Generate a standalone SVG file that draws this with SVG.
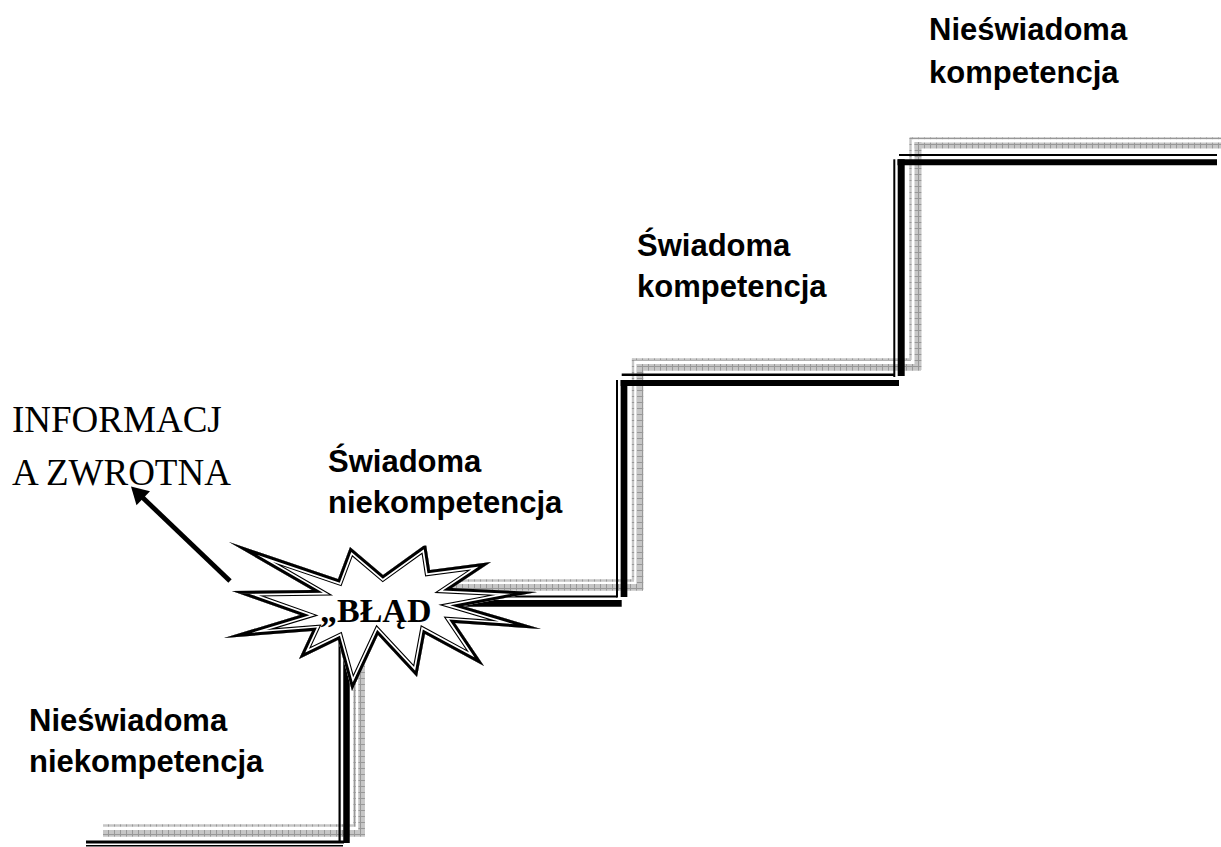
<svg xmlns="http://www.w3.org/2000/svg" xmlns:xlink="http://www.w3.org/1999/xlink" width="1221" height="847" viewBox="0 0 1221 847">
<defs>
<pattern id="hatch" width="6" height="6" patternUnits="userSpaceOnUse">
<rect width="6" height="6" fill="#c6c6c6"/>
<path d="M0 0.5H6M0.5 0V6" stroke="#989898" stroke-width="1"/>
</pattern>
<path id="burstShape" d="M229,542 L338,579 L350,547 L383,575 L426,544 L430,570 L491,562 L452,588 L537,592 L463,606 L541,629 L455,623 L484,666 L425,634 L417,677 L378,635 L352,691 L338,640 L299,659 L312,631 L224,638 L300,615 L232,591 L312,590 Z"/>
<clipPath id="burstClip"><use xlink:href="#burstShape"/></clipPath>
</defs>
<style>
.g{fill:none;stroke:url(#hatch)}
.b{fill:none;stroke:#000}
.lbl{font-family:"Liberation Sans",Arial,sans-serif;font-weight:bold;font-size:31px;fill:#000}
.ser{font-family:"Liberation Serif","Times New Roman",serif;fill:#000}
.bs{fill:none;stroke-linejoin:miter;stroke-miterlimit:30}
</style>
<rect width="1221" height="847" fill="#fff"/>

<g id="stairs-shadow">
<line class="g" x1="103" y1="825.5" x2="356" y2="825.5" stroke-width="2.4"/>
<line class="g" x1="103" y1="833.4" x2="365" y2="833.4" stroke-width="6.7"/>
<line class="g" x1="354.6" y1="650" x2="354.6" y2="825" stroke-width="2.6"/>
<line class="g" x1="361.6" y1="650" x2="361.6" y2="830" stroke-width="6.7"/>
<line class="g" x1="450" y1="580.5" x2="634" y2="580.5" stroke-width="2.4"/>
<line class="g" x1="450" y1="587.3" x2="643" y2="587.3" stroke-width="6.7"/>
<line class="g" x1="633" y1="358.5" x2="633" y2="580" stroke-width="2.4"/>
<line class="g" x1="640" y1="364" x2="640" y2="590" stroke-width="6.7"/>
<line class="g" x1="632" y1="359.5" x2="911" y2="359.5" stroke-width="2.4"/>
<line class="g" x1="637" y1="367.3" x2="921" y2="367.3" stroke-width="6.7"/>
<line class="g" x1="910.5" y1="137.5" x2="910.5" y2="360" stroke-width="2.4"/>
<line class="g" x1="918" y1="142" x2="918" y2="370" stroke-width="7"/>
<line class="g" x1="910" y1="138.3" x2="1221" y2="138.3" stroke-width="2"/>
<line class="g" x1="914.5" y1="145.5" x2="1221" y2="145.5" stroke-width="6"/>
</g>

<g id="stairs">
<line class="b" x1="86" y1="842" x2="344" y2="842" stroke-width="2.8"/>
<line class="b" x1="86" y1="845.7" x2="343" y2="845.7" stroke-width="1.4"/>
<line class="b" x1="339.6" y1="620" x2="339.6" y2="842.5" stroke-width="2.2"/>
<line class="b" x1="346.5" y1="620" x2="346.5" y2="843" stroke-width="6.5"/>
<line class="b" x1="460" y1="596.5" x2="617" y2="596.5" stroke-width="2"/>
<line class="b" x1="460" y1="603.3" x2="621.7" y2="603.3" stroke-width="6.7"/>
<line class="b" x1="617" y1="380" x2="617" y2="597.5" stroke-width="2"/>
<line class="b" x1="624" y1="380" x2="624" y2="597" stroke-width="6.7"/>
<line class="b" x1="621.7" y1="374.7" x2="895" y2="374.7" stroke-width="2.4"/>
<line class="b" x1="620.7" y1="383" x2="899" y2="383" stroke-width="6"/>
<line class="b" x1="894.3" y1="159.3" x2="894.3" y2="377" stroke-width="2"/>
<line class="b" x1="901.2" y1="159.3" x2="901.2" y2="376" stroke-width="7"/>
<line class="b" x1="899" y1="155" x2="1217" y2="155" stroke-width="2"/>
<line class="b" x1="897.5" y1="162.3" x2="1217" y2="162.3" stroke-width="6"/>
</g>

<g id="connectors">
<line x1="230" y1="581" x2="141" y2="496" stroke="#000" stroke-width="4.8"/>
<polygon points="131,486.5 150,491.2 136.5,505.2" fill="#000"/>
</g>

<g id="blad">
<use xlink:href="#burstShape" fill="#fff"/>
<g clip-path="url(#burstClip)">
<use xlink:href="#burstShape" class="bs" stroke="#000" stroke-width="11.6"/>
<use xlink:href="#burstShape" class="bs" stroke="#fff" stroke-width="9.4"/>
<use xlink:href="#burstShape" class="bs" stroke="#000" stroke-width="6"/>
</g>
<text class="ser" x="320" y="622" font-size="34" font-weight="bold">„BŁĄD</text>
</g>

<g id="swiadoma-niekompetencja">
<rect x="320" y="420" width="255" height="125.5" fill="#fff"/>
<text class="lbl" x="328" y="472">Świadoma</text>
<text class="lbl" x="328" y="513">niekompetencja</text>
</g>

<g id="nieswiadoma-niekompetencja">
<text class="lbl" x="29" y="731">Nieświadoma</text>
<text class="lbl" x="29" y="772">niekompetencja</text>
</g>

<g id="swiadoma-kompetencja">
<text class="lbl" x="637" y="256">Świadoma</text>
<text class="lbl" x="637" y="297">kompetencja</text>
</g>

<g id="nieswiadoma-kompetencja">
<text class="lbl" x="929" y="40">Nieświadoma</text>
<text class="lbl" x="929" y="83">kompetencja</text>
</g>

<g id="informacja-zwrotna">
<text class="ser" x="12" y="432" font-size="37">INFORMACJ</text>
<text class="ser" x="12" y="485" font-size="37">A ZWROTNA</text>
</g>
</svg>
